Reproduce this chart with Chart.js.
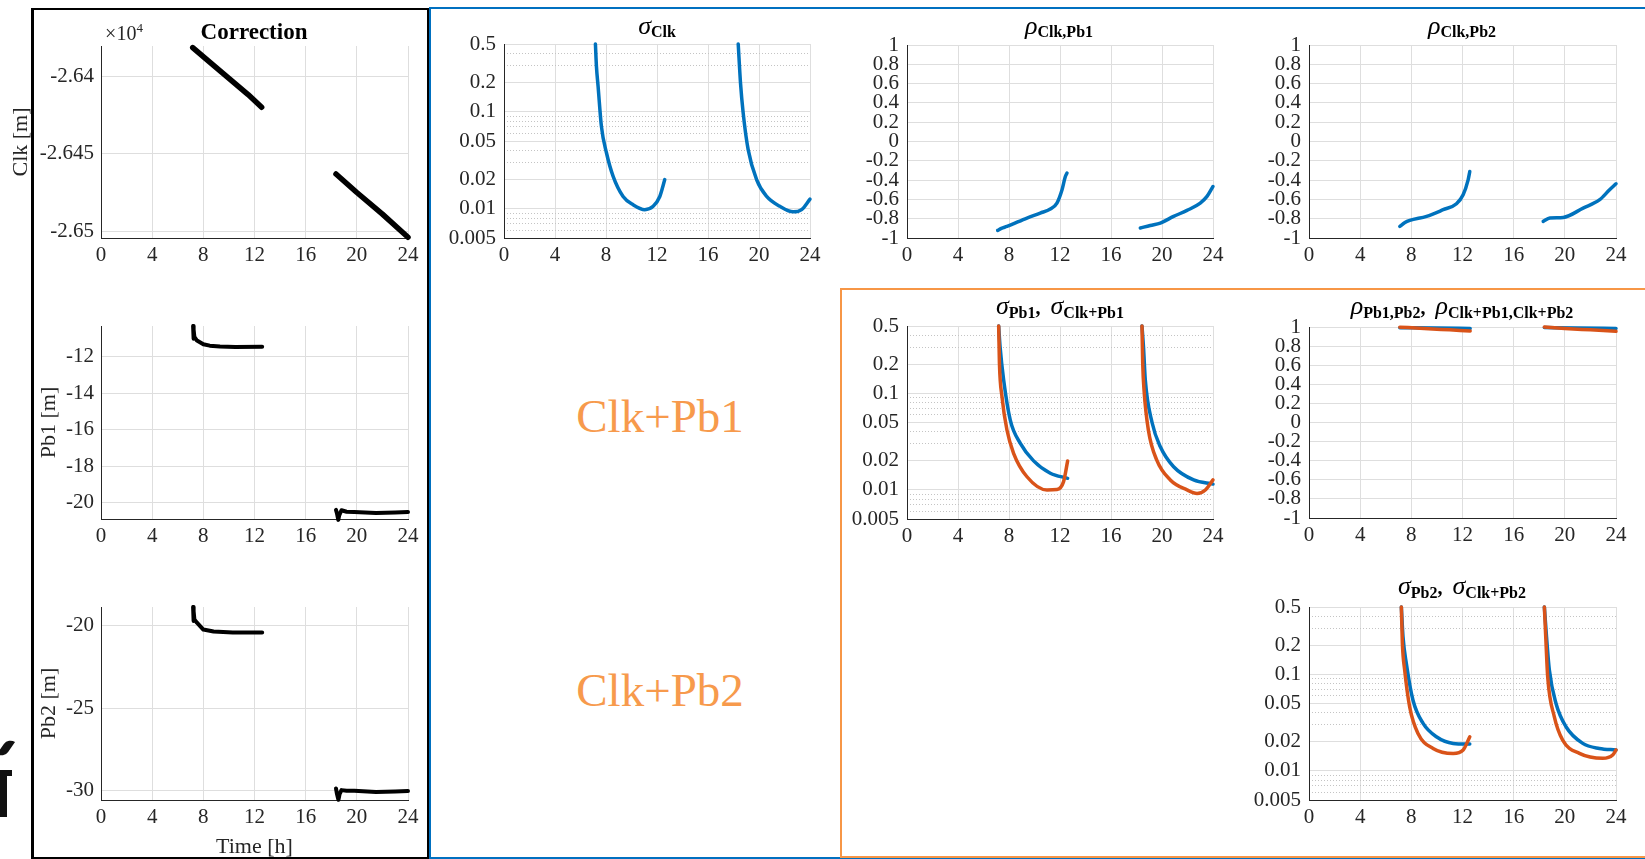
<!DOCTYPE html>
<html>
<head>
<meta charset="utf-8">
<script src="https://cdn.jsdelivr.net/npm/chart.js@4.4.1/dist/chart.umd.min.js"></script>
<style>
  body { margin: 0; width: 1645px; height: 859px; overflow: hidden; background: #fff; position: relative; font-family: 'Liberation Serif', serif; }
  canvas, .box, .t, .lbl, .ico { position: absolute; }
  .box { box-sizing: border-box; }
  .t { transform: translateX(-50%); font-size: 26px; line-height: 1; white-space: nowrap; color: #000; }
  .t i { font-style: italic; }
  .t b { font-size: 16px; vertical-align: -3px; }
  .t.r2 b { vertical-align: -4px; }
  .t .cm { font-size: 20px; font-weight: bold; margin-right: 10px; }
  .lbl { transform: translateX(-50%); line-height: 1; white-space: nowrap; }
</style>
</head>
<body>

<div class="box" style="left:31px;top:8px;width:398px;height:851px;border:2px solid #000;border-left-width:3px;"></div>
<div class="box" style="left:429px;top:7px;width:1300px;height:852px;border:2px solid #0070c0;"></div>
<div class="box" style="left:840px;top:288px;width:900px;height:570px;border:2px solid #f79646;"></div>

<div class="ico" style="left:0;top:770px;width:12px;height:6px;background:#111;"></div>
<div class="ico" style="left:0;top:770px;width:7px;height:47px;background:#111;"></div>
<div class="ico" style="left:2px;top:738px;width:8px;height:20px;background:#111;border-radius:8px 0 8px 0;transform:rotate(35deg);"></div>

<canvas id="cClk"></canvas>
<canvas id="cPb1"></canvas>
<canvas id="cPb2"></canvas>
<canvas id="cSigClk"></canvas>
<canvas id="cRho1"></canvas>
<canvas id="cRho2"></canvas>
<canvas id="cSigPb1"></canvas>
<canvas id="cRhoPb"></canvas>
<canvas id="cSigPb2"></canvas>

<div class="lbl" style="left:254px;top:20px;font-size:23px;font-weight:bold;color:#000;">Correction</div>
<div class="lbl" style="left:124px;top:21px;font-size:20px;color:#262626;">×10<span style="font-size:13px;vertical-align:8px;">4</span></div>

<div class="t" style="left:657px;top:13px;"><i>σ</i><b>Clk</b></div>
<div class="t" style="left:1059px;top:13px;"><i>ρ</i><b>Clk,Pb1</b></div>
<div class="t" style="left:1462px;top:13px;"><i>ρ</i><b>Clk,Pb2</b></div>
<div class="t r2" style="left:1060px;top:293px;"><i>σ</i><b>Pb1</b><span class="cm">,</span><i>σ</i><b>Clk+Pb1</b></div>
<div class="t r2" style="left:1462px;top:293px;"><i>ρ</i><b>Pb1,Pb2</b><span class="cm">,</span><i>ρ</i><b>Clk+Pb1,Clk+Pb2</b></div>
<div class="t r2" style="left:1462px;top:573px;"><i>σ</i><b>Pb2</b><span class="cm">,</span><i>σ</i><b>Clk+Pb2</b></div>

<div class="lbl" style="left:660px;top:393px;font-size:47px;color:#f79a4c;">Clk+Pb1</div>
<div class="lbl" style="left:660px;top:667px;font-size:47px;color:#f79a4c;">Clk+Pb2</div>

<script>
// axes
const xTicks = [0, 4, 8, 12, 16, 20, 24];
const logTicks = [0.005, 0.01, 0.02, 0.05, 0.1, 0.2, 0.5];
const logMinor = [0.006, 0.007, 0.008, 0.009, 0.03, 0.04, 0.06, 0.07, 0.08, 0.09, 0.3, 0.4];
const rhoTicks = [-1, -0.8, -0.6, -0.4, -0.2, 0, 0.2, 0.4, 0.6, 0.8, 1];
const clkTicks = [-26500, -26450, -26400];
const pb1Ticks = [-20, -18, -16, -14, -12];
const pb2Ticks = [-30, -25, -20];

// Correction column (null = gap between the two passes)
const clkT = [7.17, 8.5, 10, 11.5, 12.56, 15, 18.37, 20, 22, 24];
const clkV = [-26381, -26390.5, -26401, -26411.5, -26419.7, null, -26463, -26475, -26489, -26504];
const pb1T = [7.2, 7.22, 7.26, 7.3, 7.5, 8.0, 8.5, 9.3, 10.5, 12.6, 15, 18.37, 18.45, 18.55, 18.62, 18.8, 19.2, 19.8, 21.5, 23, 24];
const pb1V = [-10.3, -11.0, -10.5, -10.9, -11.1, -11.3, -11.38, -11.43, -11.45, -11.44, null, -20.4, -20.6, -20.95, -20.7, -20.42, -20.5, -20.52, -20.57, -20.54, -20.52];
const pb2T = [7.2, 7.22, 7.26, 7.3, 7.5, 8.0, 8.8, 10.3, 12.6, 15, 18.37, 18.45, 18.56, 18.65, 18.8, 19.2, 19.8, 21.5, 23, 24];
const pb2V = [-18.85, -19.7, -19.1, -19.6, -19.8, -20.22, -20.34, -20.4, -20.4, null, -29.86, -30.2, -30.55, -30.2, -29.96, -30.0, -30.0, -30.08, -30.05, -30.02];

// Clk only
const sigClkT = [7.17, 7.25, 7.38, 7.64, 8.04, 8.56, 9.34, 10.13, 11.04, 11.7, 12.22, 12.61, 15, 18.37, 18.55, 18.76, 19.15, 19.81, 20.6, 21.64, 22.68, 23.34, 24];
const sigClkV = [0.5, 0.294, 0.183, 0.0708, 0.0376, 0.0216, 0.0134, 0.011, 0.0098, 0.0106, 0.0134, 0.020, null, 0.5, 0.198, 0.097, 0.0407, 0.020, 0.0134, 0.0106, 0.0093, 0.0098, 0.0126];
const rho1T = [7.11, 7.4, 7.84, 9.41, 10.45, 11.24, 11.76, 12.16, 12.42, 12.55, 15, 18.3, 19.08, 19.87, 20.91, 21.96, 23.0, 23.53, 24];
const rho1V = [-0.921, -0.9, -0.88, -0.793, -0.742, -0.7, -0.638, -0.5, -0.363, -0.327, null, -0.897, -0.87, -0.845, -0.776, -0.714, -0.638, -0.569, -0.466];
const rho2T = [7.1, 7.5, 7.88, 9.19, 10.49, 11.53, 12.05, 12.44, 12.57, 15, 18.31, 18.83, 19.87, 21.43, 22.73, 23.5, 24];
const rho2V = [-0.88, -0.84, -0.818, -0.776, -0.707, -0.645, -0.552, -0.397, -0.311, null, -0.828, -0.793, -0.787, -0.69, -0.603, -0.5, -0.438];

// Clk+Pb1 / Clk+Pb2
const sigPb1T = [7.19, 7.3, 7.58, 8.1, 8.89, 9.93, 11.24, 12.6, 15, 18.43, 18.55, 18.69, 19.22, 19.87, 20.91, 22.48, 24];
const sigPb1V = [0.5, 0.305, 0.138, 0.053, 0.0304, 0.02, 0.0149, 0.0132, null, 0.5, 0.3, 0.138, 0.05, 0.028, 0.0174, 0.0127, 0.0115];
const sigCP1T = [7.19, 7.25, 7.45, 7.84, 8.36, 9.41, 10.98, 11.76, 12.28, 12.6, 15, 18.43, 18.49, 18.59, 18.93, 19.59, 20.65, 21.96, 22.75, 23.4, 24];
const sigCP1V = [0.5, 0.205, 0.0925, 0.0418, 0.024, 0.0137, 0.01, 0.0101, 0.0122, 0.02, null, 0.5, 0.2, 0.109, 0.0418, 0.0204, 0.0127, 0.01, 0.0092, 0.01, 0.0127];
const rhoPbT = [7.1, 10, 12.6, 15, 18.4, 21, 24];
const rhoPbV = [0.993, 0.99, 0.985, null, 0.995, 0.99, 0.985];
const rhoCPT = [7.1, 9, 11, 12.6, 15, 18.4, 20, 22, 24];
const rhoCPV = [0.998, 0.985, 0.97, 0.958, null, 1.0, 0.985, 0.97, 0.955];
const sigPb2T = [7.22, 7.35, 7.61, 8.13, 8.92, 9.96, 11.27, 12.57, 15, 18.4, 18.57, 18.79, 19.31, 20.09, 21.4, 22.7, 24];
const sigPb2V = [0.5, 0.245, 0.13, 0.054, 0.0311, 0.0226, 0.0193, 0.019, null, 0.5, 0.245, 0.111, 0.05, 0.0287, 0.0193, 0.0171, 0.0165];
const sigCP2T = [7.22, 7.3, 7.48, 7.87, 8.52, 9.7, 11.27, 12.05, 12.57, 15, 18.4, 18.53, 18.66, 19.18, 19.83, 21.14, 22.96, 23.74, 24];
const sigCP2V = [0.5, 0.21, 0.111, 0.0462, 0.0245, 0.0171, 0.0152, 0.0165, 0.0226, null, 0.5, 0.21, 0.0944, 0.0364, 0.0209, 0.0152, 0.0135, 0.0146, 0.0165];

const AXIS = '#262626', GRID = '#dedede', MINOR = '#c4c4c4';
const BLUE = '#0072bd', ORANGE = '#d95319', BLACK = '#000000';

Chart.defaults.font.family = "'Liberation Serif', serif";
Chart.defaults.font.size = 21;
Chart.defaults.color = AXIS;

// cv = canvas box [x0, y0, x1, y1], area = plot box [L, T, R, B], page pixels
function panel(id, cv, area, y, lines, xTitle) {
    const c = document.getElementById(id);
    c.width = cv[2] - cv[0];
    c.height = cv[3] - cv[1];
    c.style.left = cv[0] + 'px';
    c.style.top = cv[1] + 'px';
    const yW = area[0] - cv[0];
    const xH = cv[3] - area[3];

    const scales = {
        x: {
            type: 'linear', min: 0, max: 24, bounds: 'data',
            afterBuildTicks: s => { s.ticks = xTicks.map(v => ({ value: v })); },
            afterFit: s => { s.height = xH; s.paddingLeft = 0; s.paddingRight = 0; },
            grid: { color: GRID, drawTicks: false },
            border: { color: AXIS },
            ticks: { padding: 5, maxRotation: 0, autoSkip: false },
            title: xTitle
                ? { display: true, text: xTitle, font: { size: 22 }, padding: { top: 0, bottom: 1 } }
                : { display: false }
        },
        y: {
            type: y.log ? 'logarithmic' : 'linear',
            min: y.min, max: y.max, bounds: 'data',
            afterBuildTicks: s => { s.ticks = y.ticks.map(v => ({ value: v })); },
            afterFit: s => { s.width = yW; s.paddingTop = 0; s.paddingBottom = 0; },
            grid: { color: GRID, drawTicks: false },
            border: { color: AXIS },
            ticks: { padding: y.pad || 8, autoSkip: false, callback: y.fmt || (v => String(v)) },
            title: y.title
                ? { display: true, text: y.title, font: { size: 22 }, padding: { top: y.titlePad, bottom: 0 } }
                : { display: false }
        }
    };
    if (y.log) {
        // dotted minor grid of the log axes
        scales.yMinor = {
            axis: 'y', position: 'left', type: 'logarithmic', min: y.min, max: y.max, bounds: 'data',
            afterBuildTicks: s => { s.ticks = logMinor.map(v => ({ value: v })); },
            afterFit: s => { s.width = 0; s.paddingTop = 0; s.paddingBottom = 0; },
            grid: { color: MINOR, drawTicks: false },
            border: { display: false, dash: [1, 2] },
            ticks: { display: false }
        };
    }

    return new Chart(c, {
        type: 'line',
        data: {
            datasets: lines.map(l => ({
                data: l.t.map((t, i) => ({ x: t, y: l.v[i] })),
                borderColor: l.color,
                borderWidth: l.width || 3.5,
                pointRadius: 0,
                cubicInterpolationMode: l.straight ? 'default' : 'monotone',
                tension: 0,
                spanGaps: false,
                clip: false,
                order: l.order || 0,
                yAxisID: 'y',
                borderCapStyle: 'round',
                borderJoinStyle: 'round'
            }))
        },
        options: {
            responsive: false,
            animation: false,
            events: [],
            devicePixelRatio: 1,
            layout: { padding: { left: 0, top: area[1] - cv[1], right: cv[2] - area[2], bottom: 0 } },
            plugins: { legend: { display: false }, tooltip: { enabled: false }, title: { display: false } },
            scales
        }
    });
}

const logY = { log: true, min: 0.005, max: 0.5, ticks: logTicks };
const rhoY = { min: -1, max: 1, ticks: rhoTicks };

panel('cClk', [0, 10, 425, 275], [101, 46, 408, 238],
    { min: -26504.5, max: -26380, ticks: clkTicks, fmt: v => String(+(v / 1e4).toFixed(4)), pad: 7, title: 'Clk [m]', titlePad: 8 },
    [{ t: clkT, v: clkV, color: BLACK, width: 5.5, straight: true }]);
panel('cPb1', [0, 300, 425, 555], [101, 326, 408, 519],
    { min: -20.9, max: -10.3, ticks: pb1Ticks, pad: 7, title: 'Pb1 [m]', titlePad: 36 },
    [{ t: pb1T, v: pb1V, color: BLACK, width: 4, straight: true }]);
panel('cPb2', [0, 580, 425, 861], [101, 607, 408, 800],
    { min: -30.56, max: -18.85, ticks: pb2Ticks, pad: 7, title: 'Pb2 [m]', titlePad: 36 },
    [{ t: pb2T, v: pb2V, color: BLACK, width: 4, straight: true }], 'Time [h]');

panel('cSigClk', [430, 30, 830, 275], [504, 44, 810, 238], logY,
    [{ t: sigClkT, v: sigClkV, color: BLUE }]);
panel('cRho1', [845, 30, 1230, 275], [907, 45, 1213, 238], rhoY,
    [{ t: rho1T, v: rho1V, color: BLUE }]);
panel('cRho2', [1250, 30, 1640, 275], [1309, 45, 1616, 238], rhoY,
    [{ t: rho2T, v: rho2V, color: BLUE }]);

panel('cSigPb1', [845, 310, 1230, 555], [907, 326, 1213, 519], logY,
    [{ t: sigPb1T, v: sigPb1V, color: BLUE, order: 1 }, { t: sigCP1T, v: sigCP1V, color: ORANGE, order: 0 }]);
panel('cRhoPb', [1250, 310, 1640, 555], [1309, 327, 1616, 518], rhoY,
    [{ t: rhoPbT, v: rhoPbV, color: BLUE, order: 1 }, { t: rhoCPT, v: rhoCPV, color: ORANGE, order: 0 }]);
panel('cSigPb2', [1250, 590, 1640, 840], [1309, 607, 1616, 800], logY,
    [{ t: sigPb2T, v: sigPb2V, color: BLUE, order: 1 }, { t: sigCP2T, v: sigCP2V, color: ORANGE, order: 0 }]);
</script>
</body>
</html>
